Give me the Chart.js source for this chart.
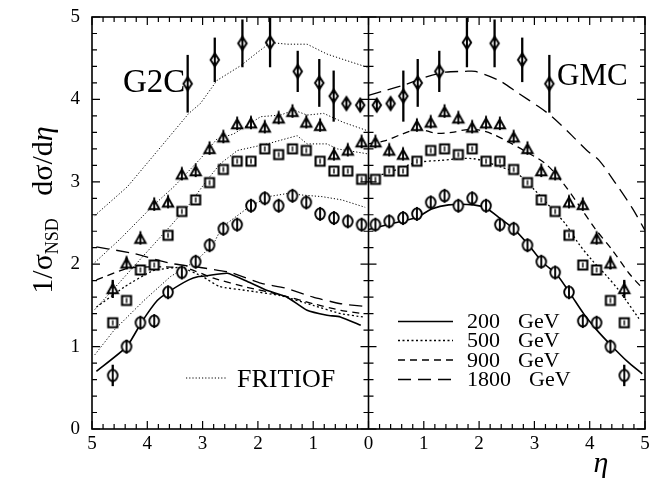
<!DOCTYPE html>
<html>
<head>
<meta charset="utf-8">
<script src="https://cdn.jsdelivr.net/npm/chart.js@4.4.0/dist/chart.umd.min.js"></script>
<style>
    html, body { margin: 0; padding: 0; background: #fff; }
    #wrap { width: 660px; height: 485px; }
</style>
</head>
<body>
<div id="wrap"><canvas id="etaChart" width="660" height="485"></canvas></div>
<script>
// eta bin centres of the measured points (left half is the mirror image)
const etaBins = [0.125, 0.375, 0.625, 0.875, 1.125, 1.375, 1.625, 1.875, 2.125, 2.375,
                 2.625, 2.875, 3.125, 3.375, 3.625, 3.875, 4.125, 4.375, 4.625];
const data200 = [2.48, 2.52, 2.56, 2.61, 2.75, 2.83, 2.71, 2.80, 2.71, 2.48,
                 2.43, 2.23, 2.03, 1.90, 1.66, 1.31, 1.29, 1.00, 0.65];
const err200  = [0.03, 0.03, 0.03, 0.03, 0.03, 0.03, 0.03, 0.03, 0.03, 0.03,
                 0.03, 0.03, 0.03, 0.04, 0.04, 0.05, 0.05, 0.08, 0.13];
const data500 = [3.03, 3.13, 3.13, 3.25, 3.38, 3.40, 3.33, 3.40, 3.25, 3.25,
                 3.15, 2.99, 2.78, 2.64, 2.35, 1.99, 1.93, 1.56, 1.29];
const err500  = [0.03, 0.03, 0.03, 0.03, 0.03, 0.03, 0.03, 0.03, 0.03, 0.03,
                 0.03, 0.03, 0.03, 0.03, 0.04, 0.04, 0.04, 0.05, 0.05];
const data900 = [3.48, 3.38, 3.33, 3.68, 3.72, 3.85, 3.77, 3.66, 3.71, 3.70,
                 3.54, 3.40, 3.13, 3.09, 2.75, 2.72, 2.31, 2.01, 1.70];
const err900  = [0.03, 0.03, 0.03, 0.03, 0.03, 0.03, 0.03, 0.03, 0.03, 0.03,
                 0.03, 0.03, 0.04, 0.04, 0.04, 0.04, 0.05, 0.07, 0.11];
const etaBins1800 = [0.15, 0.40, 0.63, 0.89, 1.28, 1.78, 2.28, 2.78, 3.27];
const data1800 = [3.93, 3.95, 4.04, 4.20, 4.34, 4.69, 4.68, 4.48, 4.19];
const err1800  = [0.05, 0.05, 0.31, 0.29, 0.25, 0.30, 0.29, 0.27, 0.35];

// GMC curves (right half)
const gmc200Eta = [0, 0.40, 0.88, 1.14, 1.45, 1.90, 2.13, 2.39, 2.64, 2.90, 3.14, 3.41, 3.65, 3.89, 4.13, 4.38, 4.68, 4.95];
const gmc200    = [2.42, 2.49, 2.57, 2.67, 2.72, 2.72, 2.68, 2.55, 2.42, 2.23, 2.03, 1.87, 1.64, 1.40, 1.20, 1.02, 0.82, 0.67];
const gmc500Eta = [0, 0.40, 0.85, 1.30, 1.90, 2.39, 2.69, 2.99, 3.32, 3.56, 3.80, 4.04, 4.29, 4.53, 4.89];
const gmc500    = [3.04, 3.12, 3.23, 3.26, 3.28, 3.18, 3.10, 2.91, 2.67, 2.49, 2.25, 2.05, 1.87, 1.68, 1.34];
const gmc900Eta = [0, 0.31, 0.61, 0.91, 1.21, 1.51, 1.75, 1.99, 2.24, 2.54, 2.81, 3.20, 3.50, 3.80, 4.10, 4.41, 4.71, 4.95];
const gmc900    = [3.46, 3.50, 3.58, 3.64, 3.59, 3.60, 3.63, 3.63, 3.58, 3.48, 3.38, 3.22, 3.00, 2.72, 2.43, 2.17, 1.89, 1.71];
const gmc1800Eta = [0, 0.31, 0.67, 1.03, 1.39, 1.75, 1.93, 2.36, 2.72, 3.08, 3.32, 3.68, 3.95, 4.17, 4.47, 4.77, 5.0];
const gmc1800    = [4.05, 4.11, 4.18, 4.27, 4.33, 4.34, 4.34, 4.23, 4.07, 3.91, 3.79, 3.56, 3.38, 3.26, 2.98, 2.68, 2.41];

// G2C curves (left half)
const g2c200Eta = [4.92, 4.37, 4.10, 3.82, 3.58, 3.25, 3.07, 2.92, 2.55, 2.19, 1.83, 1.47, 1.11, 0.75, 0.51, 0.14];
const g2c200    = [0.70, 1.00, 1.30, 1.56, 1.68, 1.81, 1.85, 1.86, 1.89, 1.79, 1.68, 1.60, 1.44, 1.38, 1.36, 1.26];
const g2c500Eta = [4.92, 4.40, 3.90, 3.40, 3.00, 2.70, 2.20, 1.60, 1.00, 0.50, 0.10];
const g2c500    = [1.48, 1.73, 1.92, 1.96, 1.85, 1.73, 1.68, 1.62, 1.50, 1.40, 1.36];
const g2c900Eta = [4.92, 4.36, 3.88, 3.28, 2.80, 2.20, 1.60, 1.00, 0.50, 0.10];
const g2c900    = [1.81, 1.95, 1.97, 1.95, 1.83, 1.72, 1.63, 1.52, 1.44, 1.40];
const g2c1800Eta = [4.92, 4.24, 3.58, 3.04, 2.50, 1.95, 1.50, 1.00, 0.50, 0.10];
const g2c1800    = [2.21, 2.13, 2.01, 1.96, 1.90, 1.77, 1.71, 1.60, 1.52, 1.49];

// FRITIOF curves (left half)
const fri200Eta = [4.95, 4.60, 4.06, 3.58, 3.10, 2.80, 2.65, 2.17, 1.81, 1.45, 1.21, 0.84, 0.48, 0.06];
const fri200    = [0.90, 1.20, 1.56, 1.85, 2.05, 2.25, 2.45, 2.69, 2.82, 2.86, 2.84, 2.82, 2.78, 2.69];
const fri500Eta = [4.95, 4.50, 4.10, 3.60, 3.28, 2.92, 2.68, 2.37, 1.83, 1.29, 1.11, 0.75, 0.57, 0.02];
const fri500    = [1.45, 1.78, 2.08, 2.45, 2.69, 3.02, 3.22, 3.38, 3.46, 3.56, 3.46, 3.46, 3.40, 3.34];
const fri900Eta = [4.95, 4.50, 3.88, 3.52, 3.04, 2.74, 2.44, 1.95, 1.59, 1.35, 1.11, 0.81, 0.45, 0.02];
const fri900    = [2.02, 2.30, 2.72, 2.94, 3.28, 3.52, 3.58, 3.79, 3.81, 3.87, 3.81, 3.83, 3.72, 3.62];
const fri1800Eta = [4.95, 4.36, 3.76, 3.25, 3.04, 2.74, 2.31, 2.01, 1.77, 1.47, 1.11, 0.75, 0.39, 0.02];
const fri1800    = [2.59, 2.94, 3.42, 3.83, 3.95, 4.23, 4.41, 4.57, 4.69, 4.67, 4.67, 4.55, 4.47, 4.39];

const xTicks = [-5, -4, -3, -2, -1, 0, 1, 2, 3, 4, 5];
const yTicks = [0, 1, 2, 3, 4, 5];
const legendLabels = ['200', '500', '900', '1800'];

const dash200 = [];
const dash500 = [2, 2.5];
const dash900 = [7, 5];
const dash1800 = [13, 7];
const dashFritiof = [1.2, 2];

function makeMarker(kind) {
    const c = document.createElement('canvas');
    c.width = 18;
    c.height = 20;
    const g = c.getContext('2d');
    const cx = 9, cy = 10;
    g.strokeStyle = '#000';
    g.fillStyle = '#fff';
    g.lineWidth = 1.9;
    g.beginPath();
    if (kind === 'circle') {
        g.ellipse(cx, cy, 4.8, 5.6, 0, 0, Math.PI * 2);
        g.fill(); g.stroke();
        g.beginPath(); g.moveTo(cx, cy - 7); g.lineTo(cx, cy + 7); g.stroke();
    } else if (kind === 'square') {
        g.lineWidth = 2.1;
        g.rect(cx - 4.5, cy - 4.5, 9, 9);
        g.fill(); g.stroke();
        g.lineWidth = 1.4;
        g.beginPath(); g.moveTo(cx, cy - 2.5); g.lineTo(cx, cy + 2.5); g.stroke();
    } else if (kind === 'triangle') {
        g.moveTo(cx, cy - 5);
        g.lineTo(cx + 5.2, cy + 4.3);
        g.lineTo(cx - 5.2, cy + 4.3);
        g.closePath();
        g.fill(); g.stroke();
        g.beginPath(); g.moveTo(cx, cy - 7.5); g.lineTo(cx, cy + 6); g.stroke();
    } else {
        g.lineWidth = 2;
        g.moveTo(cx, cy - 6.5);
        g.lineTo(cx + 4.2, cy);
        g.lineTo(cx, cy + 6.5);
        g.lineTo(cx - 4.2, cy);
        g.closePath();
        g.fill(); g.stroke();
        g.beginPath(); g.moveTo(cx, cy - 6.5); g.lineTo(cx, cy + 6.5); g.stroke();
    }
    return c;
}

function markerSet(etas, vals, errs, kind) {
    const pts = [];
    etas.forEach((e, i) => {
        pts.push({ x: e, y: vals[i], err: errs[i] });
        pts.push({ x: -e, y: vals[i], err: errs[i] });
    });
    return {
        data: pts,
        showLine: false,
        pointStyle: makeMarker(kind),
        pointRadius: 6,
        errorBars: true
    };
}

function curve(etas, vals, side, dash, width, tension) {
    return {
        data: etas.map((e, i) => ({ x: side * e, y: vals[i] })),
        showLine: true,
        borderColor: '#000',
        borderWidth: width,
        borderDash: dash,
        pointRadius: 0,
        tension: tension,
        fill: false
    };
}

// vertical error bars, drawn under the markers
const errorBarPlugin = {
    id: 'errorBars',
    beforeDatasetsDraw(chart) {
        const ctx = chart.ctx;
        const ys = chart.scales.y;
        const a = chart.chartArea;
        ctx.save();
        ctx.beginPath();
        ctx.rect(a.left, a.top, a.right - a.left, a.bottom - a.top);
        ctx.clip();
        ctx.strokeStyle = '#000';
        ctx.lineWidth = 2.3;
        chart.data.datasets.forEach((ds, di) => {
            if (!ds.errorBars) return;
            const meta = chart.getDatasetMeta(di);
            ds.data.forEach((p, i) => {
                const el = meta.data[i];
                ctx.beginPath();
                ctx.moveTo(el.x, ys.getPixelForValue(p.y - p.err));
                ctx.lineTo(el.x, ys.getPixelForValue(p.y + p.err));
                ctx.stroke();
            });
        });
        ctx.restore();
    }
};

// frame, inward ticks, labels, legend
const framePlugin = {
    id: 'frame',
    afterDraw(chart) {
        const ctx = chart.ctx;
        const xs = chart.scales.x, ys = chart.scales.y;
        const a = chart.chartArea;
        const x0 = xs.getPixelForValue(0);
        ctx.save();
        ctx.strokeStyle = '#000';
        ctx.fillStyle = '#000';
        ctx.lineWidth = 1.6;
        ctx.strokeRect(a.left, a.top, a.right - a.left, a.bottom - a.top);
        ctx.beginPath();
        ctx.moveTo(x0, a.top);
        ctx.lineTo(x0, a.bottom);
        ctx.stroke();

        ctx.lineWidth = 1.2;
        ctx.beginPath();
        for (let k = -25; k <= 25; k++) {
            const px = xs.getPixelForValue(k / 5);
            const len = k % 5 === 0 ? 8 : 5;
            ctx.moveTo(px, a.bottom); ctx.lineTo(px, a.bottom - len);
            ctx.moveTo(px, a.top); ctx.lineTo(px, a.top + len);
        }
        for (let k = 0; k <= 25; k++) {
            const py = ys.getPixelForValue(k / 5);
            const len = k % 5 === 0 ? 8 : 5;
            ctx.moveTo(a.left, py); ctx.lineTo(a.left + len, py);
            ctx.moveTo(a.right, py); ctx.lineTo(a.right - len, py);
            ctx.moveTo(x0 - len, py); ctx.lineTo(x0 + len, py);
        }
        ctx.stroke();

        ctx.font = '19px "Liberation Serif"';
        ctx.textAlign = 'center';
        ctx.textBaseline = 'middle';
        xTicks.forEach(v => {
            ctx.fillText(String(Math.abs(v)), xs.getPixelForValue(v), a.bottom + 15);
        });
        ctx.textAlign = 'right';
        yTicks.forEach(v => {
            ctx.fillText(String(v), a.left - 12, ys.getPixelForValue(v));
        });

        // panel names
        ctx.textAlign = 'left';
        ctx.textBaseline = 'alphabetic';
        ctx.font = '33px "Liberation Serif"';
        ctx.fillText('G2C', 123, 92);
        ctx.font = '31px "Liberation Serif"';
        ctx.fillText('GMC', 557, 85);

        // FRITIOF key
        ctx.font = '26px "Liberation Serif"';
        ctx.fillText('FRITIOF', 237, 387);
        ctx.lineWidth = 1;
        ctx.setLineDash(dashFritiof);
        ctx.beginPath(); ctx.moveTo(186, 378); ctx.lineTo(227, 378); ctx.stroke();

        // energy key
        const dashes = [dash200, dash500, dash900, dash1800];
        const rowsY = [321.5, 340.5, 360, 379.5];
        ctx.font = '22px "Liberation Serif"';
        ctx.textBaseline = 'middle';
        legendLabels.forEach((lab, i) => {
            ctx.setLineDash(dashes[i]);
            ctx.lineWidth = i === 0 ? 1.6 : 1.3;
            ctx.beginPath(); ctx.moveTo(398, rowsY[i]); ctx.lineTo(453, rowsY[i]); ctx.stroke();
            ctx.fillText(lab, 467, rowsY[i] + 1);
            const w = ctx.measureText(lab).width;
            ctx.fillText('GeV', 467 + w + 18, rowsY[i] + 1);
        });
        ctx.setLineDash([]);

        // axis titles
        ctx.font = 'italic 30px "Liberation Serif"';
        ctx.textAlign = 'center';
        ctx.textBaseline = 'alphabetic';
        ctx.fillText('\u03B7', 601, 472);

        ctx.translate(52, 210);
        ctx.rotate(-Math.PI / 2);
        const big = '30px "Liberation Serif"';
        const small = '18px "Liberation Serif"';
        const parts = [['1/\u03C3', big, 0], ['NSD', small, 6], ['   d\u03C3/d', big, 0], ['\u03B7', 'italic 30px "Liberation Serif"', 0]];
        let total = 0;
        parts.forEach(p => { ctx.font = p[1]; total += ctx.measureText(p[0]).width; });
        let x = -total / 2;
        ctx.textAlign = 'left';
        parts.forEach(p => {
            ctx.font = p[1];
            ctx.fillText(p[0], x, p[2]);
            x += ctx.measureText(p[0]).width;
        });
        ctx.restore();
    }
};

new Chart(document.getElementById('etaChart'), {
    type: 'scatter',
    data: {
        datasets: [
            markerSet(etaBins, data200, err200, 'circle'),
            markerSet(etaBins, data500, err500, 'square'),
            markerSet(etaBins, data900, err900, 'triangle'),
            markerSet(etaBins1800, data1800, err1800, 'diamond'),
            curve(gmc200Eta, gmc200, 1, dash200, 1.6, 0.3),
            curve(gmc500Eta, gmc500, 1, dash500, 1.3, 0.3),
            curve(gmc900Eta, gmc900, 1, dash900, 1.3, 0.3),
            curve(gmc1800Eta, gmc1800, 1, dash1800, 1.3, 0.3),
            curve(g2c200Eta, g2c200, -1, dash200, 1.6, 0.15),
            curve(g2c500Eta, g2c500, -1, dash500, 1.3, 0.15),
            curve(g2c900Eta, g2c900, -1, dash900, 1.3, 0.15),
            curve(g2c1800Eta, g2c1800, -1, dash1800, 1.3, 0.15),
            curve(fri200Eta, fri200, -1, dashFritiof, 1, 0),
            curve(fri500Eta, fri500, -1, dashFritiof, 1, 0),
            curve(fri900Eta, fri900, -1, dashFritiof, 1, 0),
            curve(fri1800Eta, fri1800, -1, dashFritiof, 1, 0)
        ]
    },
    options: {
        responsive: false,
        animation: false,
        events: [],
        layout: { padding: { left: 92, right: 15, top: 17, bottom: 56 } },
        scales: {
            x: { type: 'linear', min: -5, max: 5, display: false },
            y: { type: 'linear', min: 0, max: 5, display: false }
        },
        plugins: {
            legend: { display: false },
            tooltip: { enabled: false }
        }
    },
    plugins: [errorBarPlugin, framePlugin]
});
</script>
</body>
</html>
